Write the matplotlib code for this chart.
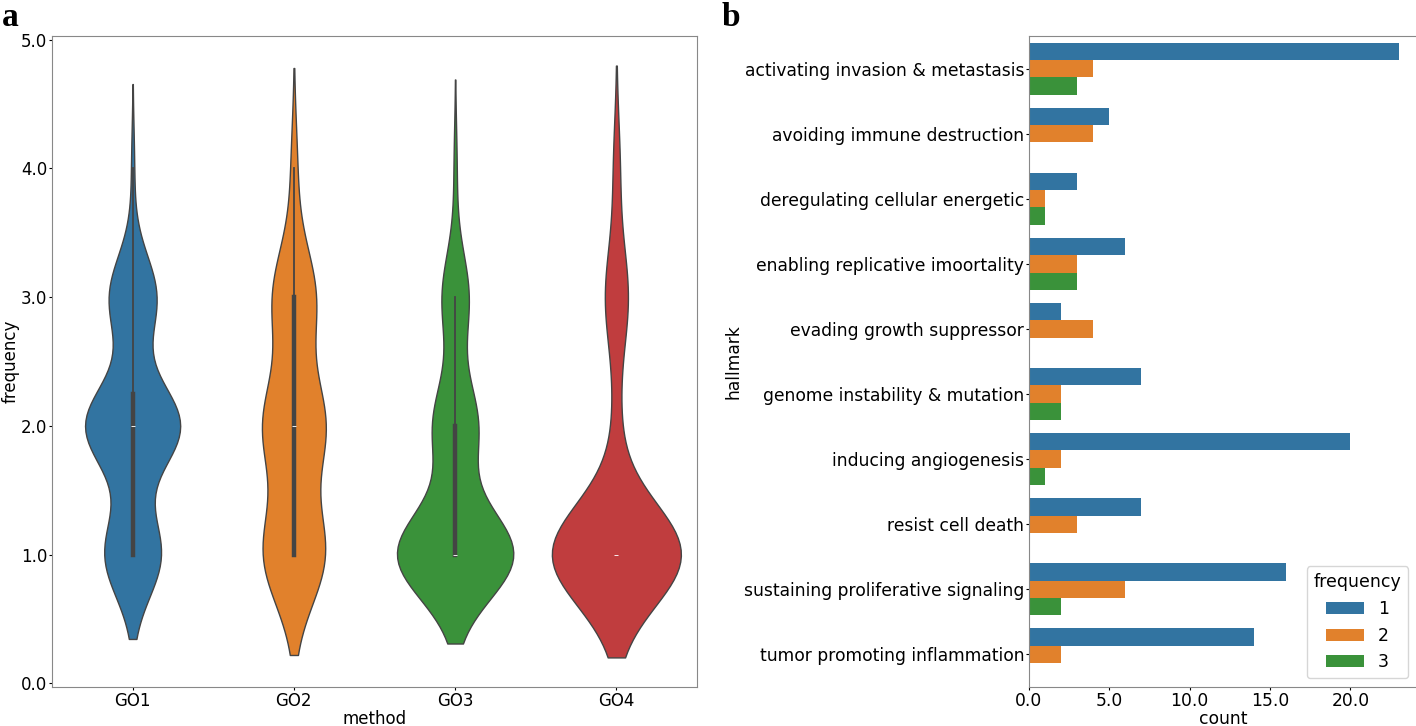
import numpy as np
import pandas as pd
import matplotlib
matplotlib.use("Agg")
import matplotlib.pyplot as plt
import matplotlib.ticker as mticker
import seaborn as sns

# ---------------- data: panel a (violin) ----------------
methods = ["GO1", "GO2", "GO3", "GO4"]
freq_values = [1, 2, 3, 4]
go1_counts = [19, 32, 16, 1]
go2_counts = [20, 20, 14, 2]
go3_counts = [39, 15, 9, 1]
go4_counts = [40, 2, 7, 2]

# ---------------- data: panel b (bars) ----------------
hallmarks = [
    "activating invasion & metastasis",
    "avoiding immune destruction",
    "deregulating cellular energetic",
    "enabling replicative imoortality",
    "evading growth suppressor",
    "genome instability & mutation",
    "inducing angiogenesis",
    "resist cell death",
    "sustaining proliferative signaling",
    "tumor promoting inflammation",
]
freq_levels = ["1", "2", "3"]
count_f1 = [23, 5, 3, 6, 2, 7, 20, 7, 16, 14]
count_f2 = [4, 4, 1, 3, 4, 2, 2, 3, 6, 2]
count_f3 = [3, 0, 1, 3, 0, 2, 1, 0, 2, 0]

# ---------------- build tables ----------------
rows = []
for m, cnts in zip(methods, [go1_counts, go2_counts, go3_counts, go4_counts]):
    for v, c in zip(freq_values, cnts):
        rows += [(m, v)] * c
df_a = pd.DataFrame(rows, columns=["method", "frequency"])

brows = []
for lvl, cnts in zip(freq_levels, [count_f1, count_f2, count_f3]):
    for h, c in zip(hallmarks, cnts):
        if c > 0:
            brows.append((h, lvl, c))
df_b = pd.DataFrame(brows, columns=["hallmark", "frequency", "count"])

plt.rcParams["font.family"] = ["DejaVu Sans"]
plt.rcParams["font.size"] = 12

W, H = 1416, 726
fig = plt.figure(figsize=(W / 100, H / 100), dpi=100)

pal = sns.color_palette("tab10", 4)

# panel a
axa = fig.add_axes([52 / W, (H - 687) / H, 645 / W, 651 / H])
sns.violinplot(data=df_a, x="method", y="frequency", hue="method",
               order=methods, hue_order=methods, palette=pal, legend=False,
               common_norm=True, density_norm="area",
               linewidth=1, linecolor="#444444", inner="box",
               inner_kws=dict(box_width=3.2, whis_width=1.3), ax=axa)
axa.yaxis.set_major_locator(mticker.MultipleLocator(1.0))
axa.yaxis.set_major_formatter(mticker.FormatStrFormatter("%.1f"))
axa.set_xlabel("method", fontsize=12, labelpad=0)
axa.set_ylabel("frequency", fontsize=12, labelpad=1)
axa.tick_params(labelsize=12, length=2.5, pad=1)
for s in axa.spines.values():
    s.set_color("#888888")

# panel b
axb = fig.add_axes([1029 / W, (H - 687) / H, 388 / W, 651 / H])
sns.barplot(data=df_b, y="hallmark", x="count", hue="frequency",
            order=hallmarks, hue_order=freq_levels,
            palette=sns.color_palette("tab10", 3), errorbar=None,
            orient="h", ax=axb)
axb.xaxis.set_major_locator(mticker.MultipleLocator(5.0))
axb.xaxis.set_major_formatter(mticker.FormatStrFormatter("%.1f"))
axb.set_xlabel("count", fontsize=12.3, labelpad=0)
axb.set_ylabel("hallmark", fontsize=12.3, labelpad=1)
axb.tick_params(labelsize=12.3, length=2.5, pad=1)
for s in axb.spines.values():
    s.set_color("#888888")
axb.legend(title="frequency", loc="lower right", fontsize=12.5,
           title_fontsize=12.5, borderaxespad=0.5, handlelength=2.2)

fig.text(2 / W, 1 - 2 / H, "a", family="Liberation Serif", weight="bold",
         fontsize=24, ha="left", va="top")
fig.text(722 / W, 1 - 2 / H, "b", family="Liberation Serif", weight="bold",
         fontsize=24, ha="left", va="top")

fig.savefig("out.png", dpi=100)
